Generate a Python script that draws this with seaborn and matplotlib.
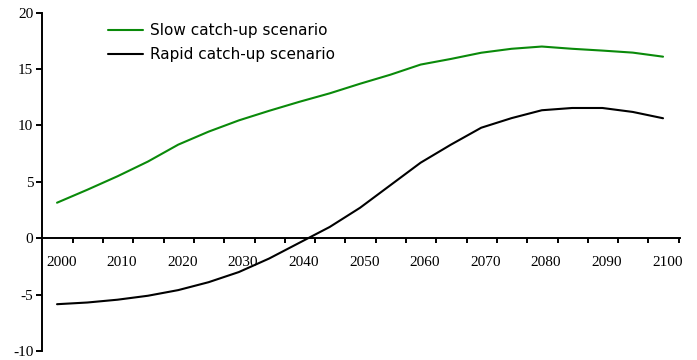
import numpy as np
import pandas as pd
import matplotlib
matplotlib.use("Agg")
import matplotlib.pyplot as plt
import seaborn as sns

# ── Data ─────────────────────────────────────────────────────────
years = [2000, 2005, 2010, 2015, 2020, 2025, 2030, 2035, 2040, 2045, 2050,
         2055, 2060, 2065, 2070, 2075, 2080, 2085, 2090, 2095, 2100]
slow  = [3.15, 4.3, 5.5, 6.8, 8.3, 9.45, 10.45, 11.3, 12.1, 12.85, 13.7,
         14.5, 15.4, 15.9, 16.45, 16.8, 17.0, 16.8, 16.64, 16.46, 16.1]
rapid = [-5.85, -5.7, -5.45, -5.1, -4.6, -3.9, -3.0, -1.8, -0.4, 1.0, 2.7,
         4.7, 6.7, 8.3, 9.8, 10.65, 11.35, 11.55, 11.55, 11.2, 10.64]
series_names = ["Slow catch-up scenario", "Rapid catch-up scenario"]
decade_labels = [str(y) for y in range(2000, 2101, 10)]
y_ticks = [-10, -5, 0, 5, 10, 15, 20]

df = pd.DataFrame({
    "year": years * 2,
    "value": slow + rapid,
    "scenario": [series_names[0]] * len(years) + [series_names[1]] * len(years),
})

sns.set_style("white")
plt.rcParams["font.family"] = ["DejaVu Sans"]

fig = plt.figure(figsize=(6.97, 3.6), dpi=100)
ax = fig.add_axes([42 / 697, 1 - 351 / 360, 638 / 697, 338.3 / 360])

sns.lineplot(data=df, x="year", y="value", hue="scenario", ax=ax,
             palette={series_names[0]: "#0a8a0a", series_names[1]: "black"},
             linewidth=1.5, legend=True)

ax.set_xlim(1997.52, 2102.8)
ax.set_ylim(-10, 20)
ax.set_xlabel(""); ax.set_ylabel("")

# ── Spines: x axis through zero, y axis on the left ──────────────
for s in ["top", "right"]:
    ax.spines[s].set_visible(False)
ax.spines["bottom"].set_position(("data", 0))
for s in ["left", "bottom"]:
    ax.spines[s].set_color("black")
    ax.spines[s].set_linewidth(1.4)

# major x ticks: unlabeled marks; minor ticks carry the decade labels
ax.set_xticks([2002.6 + 5 * k for k in range(21)])
ax.set_xticklabels([])
ax.set_xticks([int(l) + 0.7 for l in decade_labels], minor=True)
ax.set_xticklabels(decade_labels, minor=True, family="Liberation Serif", fontsize=11)
ax.tick_params(axis="x", which="major", bottom=True, direction="out",
               length=3.6, width=1.4, color="black")
ax.tick_params(axis="x", which="minor", bottom=True, length=0, pad=13, labelcolor="black")

ax.set_yticks(y_ticks)
ax.set_yticklabels([str(v) for v in y_ticks], family="Liberation Serif", fontsize=11)
ax.tick_params(axis="y", left=True, direction="out", length=4.2, width=1.4,
               color="black", pad=2, labelcolor="black")

# ── Legend ───────────────────────────────────────────────────────
handles, labels = ax.get_legend_handles_labels()
leg = ax.legend(handles, labels, loc="upper left",
                bbox_to_anchor=(108 / 697, 1 - 23 / 360), bbox_transform=fig.transFigure,
                frameon=False, fontsize=11, handlelength=2.3, handletextpad=0.45,
                labelspacing=0.6, borderpad=0, borderaxespad=0)
for line, text in zip(leg.get_lines(), leg.get_texts()):
    line.set_linewidth(1.5)
    text.set_color("black")

fig.savefig("out.png", dpi=100)
